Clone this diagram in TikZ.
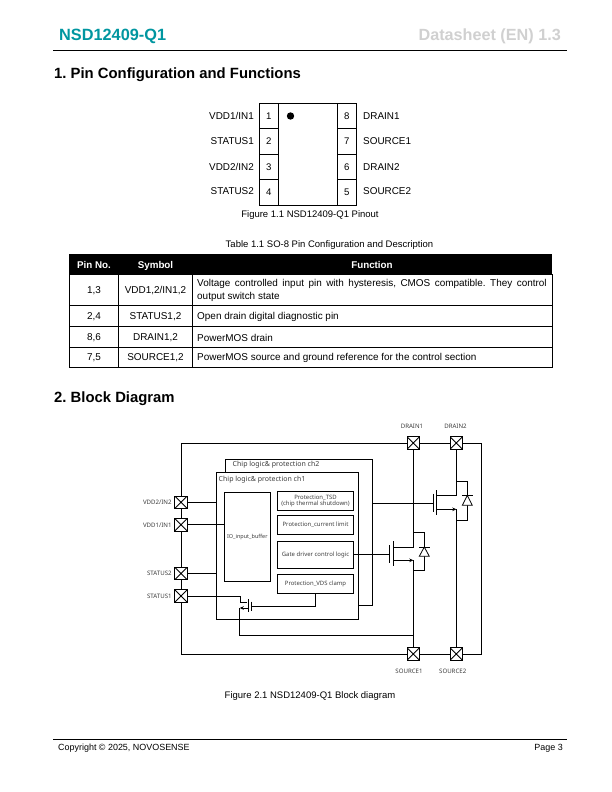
\documentclass[tikz,border=0pt]{standalone}
\usepackage{fontspec}
\setmainfont{Liberation Sans}
\newfontfamily\chipfont{Noto Sans}
\usetikzlibrary{arrows.meta}
\definecolor{novoteal}{RGB}{0,150,160}
\definecolor{headgrey}{RGB}{208,208,208}
\definecolor{chiptext}{RGB}{60,60,60}
\frenchspacing
\tikzset{
  pagetext/.style={inner sep=0pt,font=\fontsize{9.5}{11}\selectfont},
  tabletext/.style={inner sep=0pt,font=\fontsize{9.95}{12.6}\selectfont},
  pintext/.style={inner sep=0pt,font=\fontsize{9.9}{11}\selectfont},
  headingtext/.style={inner sep=0pt,anchor=west,font=\fontsize{14.85}{16}\selectfont\bfseries},
  chiptext/.style={inner sep=0pt,text=chiptext,font=\chipfont\fontsize{6.1}{7}\selectfont},
  titletext/.style={inner sep=0pt,text=chiptext,anchor=west,font=\chipfont\fontsize{7}{8}\selectfont},
  cellbox/.style={draw,line width=0.8pt,inner sep=0pt,font=\fontsize{9.6}{11}\selectfont},
  blockbox/.style={draw,line width=0.9pt,inner sep=0pt,align=center,text=chiptext,font=\chipfont\fontsize{5.95}{6.8}\selectfont},
  wire/.style={line width=0.8pt},
  fetarrow/.style={wire,-{Stealth[length=4pt,width=3.6pt]}},
  pad/.style={draw,fill=white,line width=1pt,minimum size=12.5pt,inner sep=0pt,
    path picture={\draw[line width=0.8pt] (path picture bounding box.north west) -- (path picture bounding box.south east)
      (path picture bounding box.north east) -- (path picture bounding box.south west);}},
}
\begin{document}
\begin{tikzpicture}[x=1pt,y=-1pt]
\useasboundingbox (0,0) rectangle (612,792);
% page header and footer
\node[inner sep=0pt,anchor=west,text=novoteal,font=\fontsize{16.3}{18}\selectfont\bfseries] (doctitle) at (59,36) {NSD12409-Q1};
\node[inner sep=0pt,anchor=east,text=headgrey,font=\fontsize{16.2}{18}\selectfont\bfseries] (docrev) at (561,36) {Datasheet (EN) 1.3};
\draw[line width=0.8pt] (53,50.5) -- (567,50.5);
\draw[line width=0.8pt] (53,739) -- (567,739);
\node[pagetext,anchor=west,font=\fontsize{8.95}{11}\selectfont] (copyright) at (58,748.5) {Copyright © 2025, NOVOSENSE};
\node[pagetext,anchor=east,font=\fontsize{8.95}{11}\selectfont] (pagenum) at (563,748.5) {Page 3};
\node[headingtext] (sec1) at (54,74.5) {1. Pin Configuration and Functions};
\node[headingtext] (sec2) at (54,398.5) {2. Block Diagram};
% pinout
\node[cellbox,minimum width=59pt,minimum height=101.7pt] (body) at (307.8,154.2) {};
\node[cellbox,minimum width=19pt,minimum height=25.4pt] (p1) at (268.8,116) {1};
\node[cellbox,minimum width=19pt,minimum height=25.4pt] (p2) at (268.8,141.5) {2};
\node[cellbox,minimum width=19pt,minimum height=25.4pt] (p3) at (268.8,167) {3};
\node[cellbox,minimum width=19pt,minimum height=25.4pt] (p4) at (268.8,192.4) {4};
\node[cellbox,minimum width=19pt,minimum height=25.4pt] (p8) at (346.8,116) {8};
\node[cellbox,minimum width=19pt,minimum height=25.4pt] (p7) at (346.8,141.5) {7};
\node[cellbox,minimum width=19pt,minimum height=25.4pt] (p6) at (346.8,167) {6};
\node[cellbox,minimum width=19pt,minimum height=25.4pt] (p5) at (346.8,192.4) {5};
\fill (290.5,116) circle (3.7);
\node[pintext,anchor=east] (l1) at (254,116) {VDD1/IN1};
\node[pintext,anchor=east] (l2) at (254,141) {STATUS1};
\node[pintext,anchor=east] (l3) at (254,167) {VDD2/IN2};
\node[pintext,anchor=east] (l4) at (254,191.5) {STATUS2};
\node[pintext,anchor=west] (l8) at (363,116) {DRAIN1};
\node[pintext,anchor=west] (l7) at (363,141) {SOURCE1};
\node[pintext,anchor=west] (l6) at (363,167) {DRAIN2};
\node[pintext,anchor=west] (l5) at (363,191.5) {SOURCE2};
\node[pagetext] (fig1) at (310,215) {Figure 1.1 NSD12409-Q1 Pinout};
% table
\node[pagetext] (tab1) at (329.5,245) {Table 1.1 SO-8 Pin Configuration and Description};
\fill (69.3,254) rectangle (552,274.5);
\draw[line width=0.7pt] (69.3,274.5) rectangle (552,367.5);
\draw[line width=0.7pt] (69.3,305.5) -- (552,305.5);
\draw[line width=0.7pt] (69.3,326.5) -- (552,326.5);
\draw[line width=0.7pt] (69.3,347) -- (552,347);
\draw[line width=0.7pt] (118.7,274.5) -- (118.7,367.5);
\draw[line width=0.7pt] (192.3,274.5) -- (192.3,367.5);
\node[tabletext,text=white,font=\fontsize{9.8}{11}\selectfont\bfseries] (h1) at (94,265) {Pin No.};
\node[tabletext,text=white,font=\fontsize{9.8}{11}\selectfont\bfseries,anchor=base] (h2) at (155.5,268.4) {Symbol};
\node[tabletext,text=white,font=\fontsize{9.8}{11}\selectfont\bfseries] (h3) at (372,265) {Function};
\node[tabletext] (a1) at (94,291) {1,3};
\node[tabletext] (a2) at (155.5,291) {VDD1,2/IN1,2};
\node[tabletext,anchor=west,align=left] (a3) at (197,290.5) {\makebox[349.5pt][s]{Voltage controlled input pin with hysteresis, CMOS compatible. They control}\\output switch state};
\node[tabletext] (b1) at (94,316.5) {2,4};
\node[tabletext] (b2) at (155.5,316.5) {STATUS1,2};
\node[tabletext,anchor=west] (b3) at (197,316.5) {Open drain digital diagnostic pin};
\node[tabletext] (c1) at (94,337.5) {8,6};
\node[tabletext] (c2) at (155.5,337.5) {DRAIN1,2};
\node[tabletext,anchor=west] (c3) at (197,337.5) {PowerMOS drain};
\node[tabletext] (d1) at (94,357.5) {7,5};
\node[tabletext] (d2) at (155.5,357.5) {SOURCE1,2};
\node[tabletext,anchor=west] (d3) at (197,357.5) {PowerMOS source and ground reference for the control section};
% block diagram
\node[cellbox,minimum width=299.6pt,minimum height=210.7pt] (chip) at (331.5,548.6) {};
\node[cellbox,minimum width=142pt,minimum height=147pt] (ch1) at (287.7,545.8) {};
\draw[wire] (225.3,472.3) -- (225.3,459) -- (372.3,459) -- (372.3,605.3) -- (ch1.east |- 0,605.3);
\node[titletext] (ch2title) at (232.5,464.8) {Chip logic\& protection ch2};
\node[titletext] (ch1title) at (218.5,479.5) {Chip logic\& protection ch1};
\node[blockbox,minimum width=46pt,minimum height=89pt,font=\chipfont\fontsize{5.5}{6}\selectfont] (iobuf) at (247.3,536.8) {IO\_input\_buffer};
\node[blockbox,minimum width=76.4pt,minimum height=19.4pt] (tsd) at (315.5,501) {Protection\_TSD\\(chip thermal shutdown)};
\node[blockbox,minimum width=76.4pt,minimum height=19pt] (ilimit) at (315.5,524.8) {Protection\_current limit};
\node[blockbox,minimum width=76.4pt,minimum height=27pt] (gatelogic) at (315.5,554.8) {Gate driver control logic};
\node[blockbox,minimum width=76.4pt,minimum height=19pt] (vdsclamp) at (315.5,583.8) {Protection\_VDS clamp};
\node[pad] (vdd2) at (181,502.3) {};
\node[pad] (vdd1) at (181,524.8) {};
\node[pad] (status2) at (181,573.5) {};
\node[pad] (status1) at (181,596) {};
\node[pad] (drain1) at (413.3,443) {};
\node[pad] (drain2) at (456.3,443) {};
\node[pad] (source1) at (413.3,654) {};
\node[pad] (source2) at (456.3,654) {};
\node[chiptext,anchor=east] (vdd2l) at (171.8,502.3) {VDD2/IN2};
\node[chiptext,anchor=east] (vdd1l) at (171.8,525.5) {VDD1/IN1};
\node[chiptext,anchor=east] (status2l) at (171.8,573) {STATUS2};
\node[chiptext,anchor=east] (status1l) at (171.8,596.5) {STATUS1};
\node[chiptext] (drain1l) at (412,426.5) {DRAIN1};
\node[chiptext] (drain2l) at (455.5,426.5) {DRAIN2};
\node[chiptext] (source1l) at (409,671.5) {SOURCE1};
\node[chiptext] (source2l) at (452.7,671.5) {SOURCE2};
\draw[wire] (vdd2.east) -- (vdd2.east -| ch1.west);
\draw[wire] (vdd1.east) -- (vdd1.east -| iobuf.west);
\draw[wire] (status2.east) -- (status2.east -| ch1.west);
% status switch
\coordinate (swd) at (240.5,602.7);
\coordinate (sws) at (239.8,608);
\coordinate (swgate) at (251,606);
\draw[wire] (status1.east) -- (status1.east -| swd) -- (swd) -- (247.3,602.7);
\draw[wire] (248.7,599.3) -- (248.7,612.3);
\draw[wire] (swgate |- 0,601.5) -- (swgate |- 0,610.5);
\draw[wire] (swgate) -- (vdsclamp.south |- swgate) -- (vdsclamp.south);
\draw[fetarrow] (248.7,608) -- (sws);
\draw[wire] (sws) -- (sws |- 0,635.3) -- (source1.north |- 0,635.3);
% power switch ch1
\coordinate (q1d) at (413.3,547);
\coordinate (q1s) at (413.3,560.3);
\draw[wire] (drain1.south) -- (q1d) -- (393.7,547);
\draw[wire] (393.7,541.3) -- (393.7,566);
\draw[wire] (389.3,545) -- (389.3,563);
\draw[wire] (gatelogic.east |- 0,554.3) -- (389.3,554.3);
\draw[fetarrow] (393.7,560.3) -- (q1s);
\draw[wire] (q1s) -- (source1.north);
\draw[wire] (413.3,532.5) -- (424.3,532.5) -- (424.3,570.7) -- (413.3,570.7);
\draw[wire,fill=white] (424.3,547) -- (419.3,556.3) -- (429.3,556.3) -- cycle;
\draw[wire] (419,547) -- (429.6,547);
% power switch ch2
\coordinate (q2d) at (456.3,495.3);
\coordinate (q2s) at (456.3,509.3);
\draw[wire] (drain2.south) -- (q2d) -- (436.7,495.3);
\draw[wire] (436.7,490.3) -- (436.7,515);
\draw[wire] (433.7,493.5) -- (433.7,512);
\draw[wire] (372.3,503.3) -- (433.7,503.3);
\draw[fetarrow] (436.7,509.3) -- (q2s);
\draw[wire] (q2s) -- (source2.north);
\draw[wire] (456.3,481.3) -- (467.3,481.3) -- (467.3,520) -- (456.3,520);
\draw[wire,fill=white] (467.3,495.3) -- (462.3,505.3) -- (472.3,505.3) -- cycle;
\draw[wire] (462,495.3) -- (472.6,495.3);
\node[pagetext] (fig2) at (310,696.5) {Figure 2.1 NSD12409-Q1 Block diagram};
\end{tikzpicture}
\end{document}
